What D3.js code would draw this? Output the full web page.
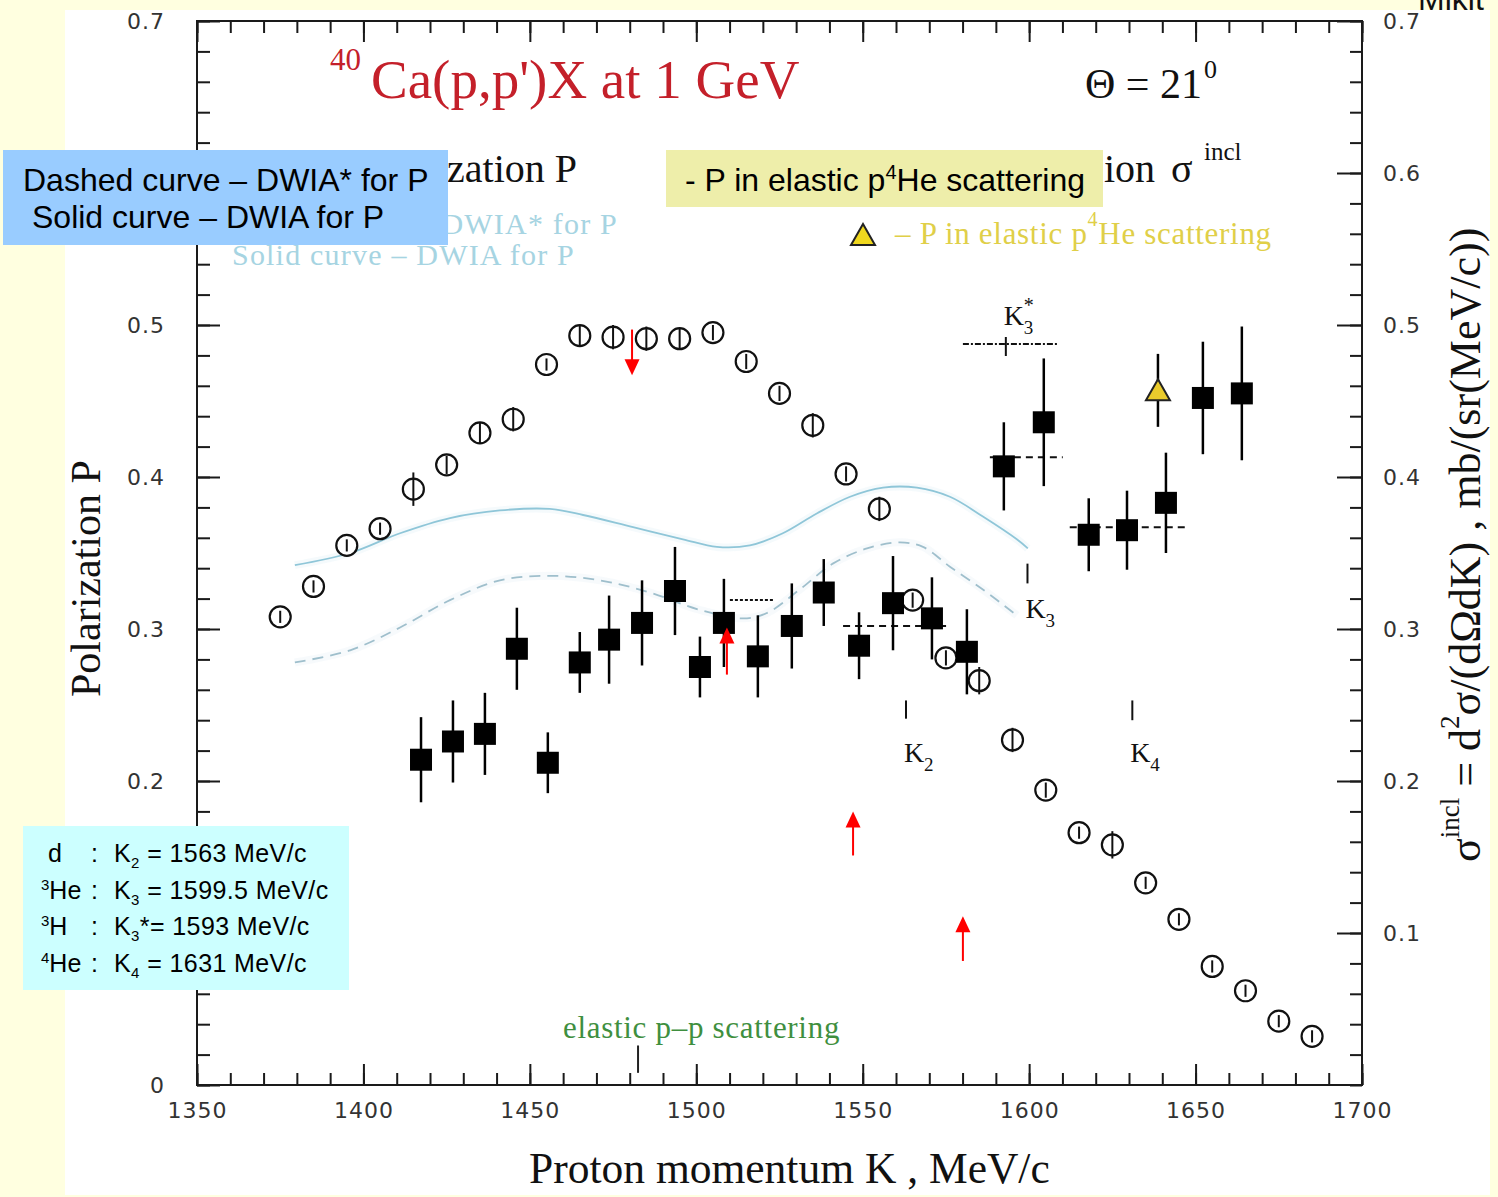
<!DOCTYPE html>
<html>
<head>
<meta charset="utf-8">
<script src="https://cdn.jsdelivr.net/npm/d3@7"></script>
<style>
  html, body { margin: 0; padding: 0; background: #FFFFE0; }
  svg { display: block; }
</style>
</head>
<body>
<svg id="chart" width="1498" height="1197"></svg>
<script>
// ---------- data ----------
// inclusive cross section (open circles, right axis), MeV/c and mb/(sr MeV/c)
const crossK = [1375,1385,1395,1405,1415,1425,1435,1445,1455,1465,1475,1485,1495,1505,1515,1525,
                1535,1545,1555,1565,1575,1585,1595,1605,1615,1625,1635,1645,1655,1665,1675,1685];
const crossSigma = [0.308,0.328,0.355,0.366,0.392,0.408,0.429,0.438,0.474,0.493,0.492,0.491,0.491,0.495,0.476,0.455,
                    0.434,0.402,0.379,0.319,0.281,0.266,0.227,0.194,0.166,0.158,0.133,0.109,0.078,0.062,0.042,0.032];
const crossErr = [0.004,0.004,0.004,0.004,0.011,0.006,0.007,0.008,0.004,0.007,0.008,0.008,0.007,0.005,0.005,0.005,
                  0.008,0.005,0.008,0.005,0.005,0.009,0.008,0.005,0.004,0.009,0.004,0.004,0.004,0.004,0.004,0.004];

// polarization P (filled squares, left axis)
const polK = [1417.3,1426.9,1436.5,1446.1,1455.4,1465.0,1473.8,1483.7,1493.6,1501.1,1508.3,1518.5,1528.7,
              1538.3,1548.9,1559.1,1570.8,1581.3,1592.4,1604.4,1617.9,1629.4,1641.1,1652.2,1663.9];
const polP = [0.214,0.226,0.231,0.287,0.212,0.278,0.293,0.304,0.325,0.275,0.304,0.282,0.302,
              0.324,0.289,0.317,0.307,0.285,0.407,0.436,0.362,0.365,0.383,0.452,0.455];
const polErr = [0.028,0.027,0.027,0.027,0.020,0.020,0.029,0.028,0.029,0.020,0.029,0.027,0.028,
                0.022,0.022,0.031,0.027,0.028,0.029,0.042,0.024,0.026,0.033,0.037,0.044];

// P in elastic p 4He scattering (triangle)
const heK = [1638.7];
const heP = [0.457];
const heErr = [0.024];

// DWIA (solid) and DWIA* (dashed) calculations
const dwiaK = [1379.4,1396.0,1411.0,1426.0,1441.0,1456.0,1466.0,1481.0,1496.0,1506.2,1516.1,1526.0,1536.2,
               1546.2,1556.1,1566.3,1576.2,1586.1,1596.3,1599.6];
const dwiaP = [0.342,0.350,0.363,0.373,0.378,0.379,0.375,0.367,0.359,0.354,0.355,0.363,0.376,
               0.387,0.393,0.393,0.387,0.374,0.359,0.353];
const dwiaStarK = [1379.4,1396.0,1411.0,1426.0,1441.0,1456.0,1471.1,1486.1,1501.1,1514.0,1521.2,1531.1,
                   1541.0,1551.3,1561.2,1568.1,1576.2,1586.1,1596.3];
const dwiaStarP = [0.278,0.286,0.301,0.319,0.332,0.335,0.332,0.324,0.3125,0.307,0.3105,0.326,
                   0.343,0.353,0.357,0.354,0.341,0.326,0.309];

// kinematic limits of the cluster knock-out
const thresholdName = ["K2", "K3", "K3*", "K4"];
const thresholdK = [1563, 1599.5, 1593, 1631];

// averaged levels (horizontal reference segments)
const levelFrom = [1510.1, 1544.1, 1580.1, 1588.2, 1612.2];
const levelTo   = [1523.6, 1576.2, 1608.6, 1610.1, 1647.7];
const levelP    = [0.319, 0.302, 0.4875, 0.413, 0.367];
const levelKind = ["dot", "dash", "dashdot", "dash", "dash"];

// red arrows
const arrowK    = [1480.7, 1509.2, 1547.1, 1580.1];
const arrowTail = [0.497, 0.270, 0.151, 0.0816];
const arrowTip  = [0.467, 0.301, 0.180, 0.111];

// elastic p-p position
const ppK = [1482.5];

// ticks (left-hand 0.1 and 0.6 sit under the note boxes and carry no label)
const xTicks = [1350, 1400, 1450, 1500, 1550, 1600, 1650, 1700];
const yTicksLeft = [0, 0.1, 0.2, 0.3, 0.4, 0.5, 0.6, 0.7];
const yLabelsLeft = [0, 0.2, 0.3, 0.4, 0.5, 0.7];
const yTicksRight = [0.1, 0.2, 0.3, 0.4, 0.5, 0.6, 0.7];

// ---------- layout ----------
const svg = d3.select("#chart");
const x = d3.scaleLinear().domain([1350, 1700]).range([197, 1362]);
const y = d3.scaleLinear().domain([0, 0.7]).range([1085, 21]);

const SERIF = "'Liberation Serif', 'Times New Roman', serif";
const SANS = "'Liberation Sans', Arial, sans-serif";
const TICKFONT = "'DejaVu Sans', sans-serif";

// white sheet
svg.append("rect").attr("x", 65).attr("y", 10).attr("width", 1425).attr("height", 1185).attr("fill", "#ffffff");

// ---------- axes ----------
function styleAxis(g) {
  g.select(".domain").remove();
  g.selectAll(".tick line").attr("stroke", "#1a1a1a").attr("stroke-width", 2);
  g.selectAll("text")
    .attr("font-family", TICKFONT).attr("font-size", 22)
    .attr("letter-spacing", 1).attr("fill", "#333");
}
const fmt = d => String(d);
const fmtLeft = d => (yLabelsLeft.includes(d) ? String(d) : "");

svg.append("g").attr("transform", "translate(0,1085)")
  .call(d3.axisBottom(x).tickValues(d3.range(1350, 1701, 10)).tickSize(-12).tickFormat(""))
  .call(styleAxis);
svg.append("g").attr("transform", "translate(0,1085)")
  .call(d3.axisBottom(x).tickValues(xTicks).tickSize(-21).tickPadding(17).tickFormat(fmt))
  .call(styleAxis);
svg.append("g").attr("transform", "translate(0,21)")
  .call(d3.axisTop(x).tickValues(d3.range(1350, 1701, 10)).tickSize(-12).tickFormat(""))
  .call(styleAxis);
svg.append("g").attr("transform", "translate(0,21)")
  .call(d3.axisTop(x).tickValues(xTicks).tickSize(-21).tickFormat(""))
  .call(styleAxis);

svg.append("g").attr("transform", "translate(197,0)")
  .call(d3.axisLeft(y).tickValues(d3.range(0, 0.701, 0.02)).tickSize(-13).tickFormat(""))
  .call(styleAxis);
const leftAxis = svg.append("g").attr("transform", "translate(197,0)")
  .call(d3.axisLeft(y).tickValues(yTicksLeft).tickSize(-23).tickPadding(32).tickFormat(fmtLeft))
  .call(styleAxis);
leftAxis.selectAll("text").filter(function () { return this.textContent === ""; }).remove();
svg.append("g").attr("transform", "translate(1362,0)")
  .call(d3.axisRight(y).tickValues(d3.range(0, 0.701, 0.02)).tickSize(-12).tickFormat(""))
  .call(styleAxis);
svg.append("g").attr("transform", "translate(1362,0)")
  .call(d3.axisRight(y).tickValues(yTicksRight).tickSize(-25).tickPadding(21).tickFormat(fmt))
  .call(styleAxis);

// frame
svg.append("rect").attr("x", x(1350)).attr("y", y(0.7))
  .attr("width", x(1700) - x(1350)).attr("height", y(0) - y(0.7))
  .attr("fill", "none").attr("stroke", "#1a1a1a").attr("stroke-width", 2);

// axis titles
svg.append("text").attr("x", 529).attr("y", 1183)
  .attr("font-family", SERIF).attr("font-size", 43.5).attr("fill", "#111")
  .text("Proton momentum K , MeV/c");

svg.append("text").attr("transform", "translate(100,697) rotate(-90)")
  .attr("font-family", SERIF).attr("font-size", 42).attr("fill", "#111")
  .text("Polarization P");

const rt = svg.append("text").attr("transform", "translate(1480,862) rotate(-90)")
  .attr("font-family", SERIF).attr("font-size", 44).attr("fill", "#111");
rt.append("tspan").text("σ");
rt.append("tspan").attr("font-size", 27).attr("dy", -21).text("incl");
rt.append("tspan").attr("dy", 21).text(" = d");
rt.append("tspan").attr("font-size", 27).attr("dy", -21).text("2");
rt.append("tspan").attr("dy", 21).text("σ/(dΩdK) , mb/(sr(MeV/c))");

// ---------- headings inside the frame ----------
svg.append("text").attr("x", 330).attr("y", 70)
  .attr("font-family", SERIF).attr("font-size", 31).attr("fill", "#c4202a").text("40");
svg.append("text").attr("x", 371).attr("y", 98)
  .attr("font-family", SERIF).attr("font-size", 55).attr("fill", "#c4202a").text("Ca(p,p')X at 1 GeV");

svg.append("text").attr("x", 1085).attr("y", 98)
  .attr("font-family", SERIF).attr("font-size", 42).attr("fill", "#111").text("Θ = 21");
svg.append("text").attr("x", 1204).attr("y", 78)
  .attr("font-family", SERIF).attr("font-size", 26).attr("fill", "#111").text("0");

// panel headings, partly covered by the note boxes
svg.append("text").attr("x", 577).attr("y", 182).attr("text-anchor", "end")
  .attr("font-family", SERIF).attr("font-size", 40).attr("fill", "#111").text("zation P");
const sh = svg.append("text").attr("x", 1104).attr("y", 182)
  .attr("font-family", SERIF).attr("font-size", 40).attr("fill", "#111");
sh.append("tspan").text("ion");
sh.append("tspan").attr("x", 1171).text("σ");
sh.append("tspan").attr("x", 1204).attr("y", 160).attr("font-size", 25).text("incl");

// curve legend (light blue)
svg.append("text").attr("x", 618).attr("y", 234).attr("text-anchor", "end")
  .attr("font-family", SERIF).attr("font-size", 30).attr("letter-spacing", 1.2)
  .attr("fill", "#a6d4e2").text("DWIA* for P");
svg.append("text").attr("x", 232).attr("y", 265)
  .attr("font-family", SERIF).attr("font-size", 30).attr("letter-spacing", 1.2)
  .attr("fill", "#a6d4e2").text("Solid curve – DWIA for P");

// triangle legend (yellow)
const triPath = "M0,-11 L12,10 L-12,10 Z";
svg.append("path").attr("d", triPath).attr("transform", "translate(863,235)")
  .attr("fill", "#f0d81e").attr("stroke", "#222").attr("stroke-width", 2);
const yl = svg.append("text").attr("x", 895).attr("y", 244)
  .attr("font-family", SERIF).attr("font-size", 31).attr("letter-spacing", 0.7).attr("fill", "#e0cf48");
yl.append("tspan").text("– P in elastic  p");
yl.append("tspan").attr("font-size", 20).attr("dy", -18).text("4");
yl.append("tspan").attr("dy", 18).text("He scattering");

// elastic p-p scattering
svg.append("text").attr("x", 563).attr("y", 1038)
  .attr("font-family", SERIF).attr("font-size", 31).attr("letter-spacing", 0.7)
  .attr("fill", "#3f8f3f").text("elastic p–p scattering");
svg.selectAll(".pp").data(ppK).enter().append("line")
  .attr("x1", d => x(d)).attr("x2", d => x(d))
  .attr("y1", y(0.026)).attr("y2", y(0.008))
  .attr("stroke", "#222").attr("stroke-width", 2);

// ---------- theory curves ----------
const line = d3.line().x(d => x(d[0])).y(d => y(d[1])).curve(d3.curveCatmullRom.alpha(0.5));
const solidPts = dwiaK.map((k, i) => [k, dwiaP[i]]);
const dashedPts = dwiaStarK.map((k, i) => [k, dwiaStarP[i]]);

svg.append("path").attr("d", line(solidPts)).attr("fill", "none")
  .attr("stroke", "#e2f2f7").attr("stroke-width", 8).attr("stroke-opacity", 0.35);
svg.append("path").attr("d", line(dashedPts)).attr("fill", "none")
  .attr("stroke", "#e8f2f6").attr("stroke-width", 8).attr("stroke-opacity", 0.35);
svg.append("path").attr("d", line(solidPts)).attr("fill", "none")
  .attr("stroke", "#8fc6d8").attr("stroke-width", 1.8);
svg.append("path").attr("d", line(dashedPts)).attr("fill", "none")
  .attr("stroke", "#9fbfcc").attr("stroke-width", 1.8).attr("stroke-dasharray", "11,7");

// ---------- reference levels ----------
const dashFor = { dot: "3,2", dash: "7,5", dashdot: "6,2,2,2" };
svg.selectAll(".lvl").data(levelP).enter().append("line")
  .attr("x1", (d, i) => x(levelFrom[i])).attr("x2", (d, i) => x(levelTo[i]))
  .attr("y1", d => y(d)).attr("y2", d => y(d))
  .attr("stroke", "#111").attr("stroke-width", 2)
  .attr("stroke-dasharray", (d, i) => dashFor[levelKind[i]]);

// ---------- cross-section circles ----------
const cg = svg.append("g");
crossK.forEach((k, i) => {
  const cx = x(k), cy = y(crossSigma[i]);
  cg.append("circle").attr("cx", cx).attr("cy", cy).attr("r", 10.5)
    .attr("fill", "#fff").attr("stroke", "#111").attr("stroke-width", 2.2);
  cg.append("line").attr("x1", cx).attr("x2", cx)
    .attr("y1", y(crossSigma[i] + crossErr[i])).attr("y2", y(crossSigma[i] - crossErr[i]))
    .attr("stroke", "#111").attr("stroke-width", 2);
});

// ---------- polarization squares ----------
const pg = svg.append("g");
polK.forEach((k, i) => {
  const cx = x(k), cy = y(polP[i]);
  pg.append("line").attr("x1", cx).attr("x2", cx)
    .attr("y1", y(polP[i] + polErr[i])).attr("y2", y(polP[i] - polErr[i]))
    .attr("stroke", "#000").attr("stroke-width", 2.5);
  pg.append("rect").attr("x", cx - 11).attr("y", cy - 11).attr("width", 22).attr("height", 22)
    .attr("fill", "#000");
});

// elastic p4He point
heK.forEach((k, i) => {
  const cx = x(k), cy = y(heP[i]);
  svg.append("line").attr("x1", cx).attr("x2", cx)
    .attr("y1", y(heP[i] + heErr[i])).attr("y2", y(heP[i] - heErr[i]))
    .attr("stroke", "#000").attr("stroke-width", 2.5);
  svg.append("path").attr("d", triPath).attr("transform", `translate(${cx},${cy})`)
    .attr("fill", "#eacb2c").attr("stroke", "#222").attr("stroke-width", 2);
});

// ---------- thresholds ----------
const thrTick = { K2: [0.253, 0.241], K3: [0.343, 0.330], "K3*": [0.4921, 0.4796], K4: [0.253, 0.240] };
const thrLabel = { K2: [0.2125, "2", ""], K3: [0.307, "3", ""], "K3*": [0.5, "3", "*"], K4: [0.2125, "4", ""] };
thresholdName.forEach((n, i) => {
  const tx = x(thresholdK[i]);
  svg.append("line").attr("x1", tx).attr("x2", tx)
    .attr("y1", y(thrTick[n][0])).attr("y2", y(thrTick[n][1]))
    .attr("stroke", "#111").attr("stroke-width", 2);
  const lx = tx - 2, ly = y(thrLabel[n][0]);
  const t = svg.append("text").attr("x", lx).attr("y", ly)
    .attr("font-family", SERIF).attr("font-size", 28).attr("fill", "#111");
  t.append("tspan").text("K");
  if (thrLabel[n][2]) {
    t.append("tspan").attr("x", lx + 20).attr("y", ly - 13).attr("font-size", 20).text(thrLabel[n][2]);
  }
  t.append("tspan").attr("x", lx + 20).attr("y", ly + 9).attr("font-size", 19).text(thrLabel[n][1]);
});

// ---------- red arrows ----------
arrowK.forEach((k, i) => {
  const ax = x(k), y0 = y(arrowTail[i]), y1 = y(arrowTip[i]);
  const dir = y1 > y0 ? 1 : -1;
  svg.append("line").attr("x1", ax).attr("x2", ax).attr("y1", y0).attr("y2", y1 - dir * 14)
    .attr("stroke", "#ff0000").attr("stroke-width", 2);
  svg.append("path")
    .attr("d", `M${ax},${y1} L${ax - 7.5},${y1 - dir * 16} L${ax + 7.5},${y1 - dir * 16} Z`)
    .attr("fill", "#ff0000");
});

// ---------- overlay notes ----------
svg.append("rect").attr("x", 3).attr("y", 150).attr("width", 445).attr("height", 95).attr("fill", "#99ccff");
svg.append("text").attr("x", 23).attr("y", 191).attr("font-family", SANS).attr("font-size", 32)
  .attr("fill", "#000").text("Dashed curve – DWIA* for P");
svg.append("text").attr("x", 32).attr("y", 228).attr("font-family", SANS).attr("font-size", 32)
  .attr("fill", "#000").text("Solid curve – DWIA for P");

svg.append("rect").attr("x", 666).attr("y", 150).attr("width", 437).attr("height", 57).attr("fill", "#eeeeaa");
const yn = svg.append("text").attr("x", 685).attr("y", 191).attr("font-family", SANS).attr("font-size", 32).attr("fill", "#000");
yn.append("tspan").text("- P in elastic p");
yn.append("tspan").attr("font-size", 20).attr("dy", -12).text("4");
yn.append("tspan").attr("dy", 12).text("He scattering");

svg.append("rect").attr("x", 23).attr("y", 826).attr("width", 326).attr("height", 164).attr("fill", "#ccffff");
const rows = [
  { nuc: "d", sup: "", sub: "2", star: "", rest: "= 1563 MeV/c" },
  { nuc: "He", sup: "3", sub: "3", star: "", rest: "= 1599.5 MeV/c" },
  { nuc: "H", sup: "3", sub: "3", star: "*", rest: "= 1593 MeV/c" },
  { nuc: "He", sup: "4", sub: "4", star: "", rest: "= 1631 MeV/c" }
];
rows.forEach((r, i) => {
  const by = 862 + i * 36.5;
  const t = svg.append("text").attr("x", r.sup ? 41 : 48).attr("y", by)
    .attr("font-family", SANS).attr("font-size", 25).attr("fill", "#000");
  if (r.sup) t.append("tspan").attr("font-size", 15).attr("dy", -9).text(r.sup);
  t.append("tspan").attr("dy", r.sup ? 9 : 0).text(r.nuc);
  svg.append("text").attr("x", 91).attr("y", by).attr("font-family", SANS).attr("font-size", 25)
    .attr("fill", "#000").text(":");
  const k = svg.append("text").attr("x", 114).attr("y", by).attr("font-family", SANS)
    .attr("font-size", 25).attr("letter-spacing", 0.4).attr("fill", "#000");
  k.append("tspan").text("K");
  k.append("tspan").attr("font-size", 15).attr("dy", 6).text(r.sub);
  k.append("tspan").attr("dy", -6).text(r.star + (r.star ? "" : " ") + r.rest);
});

// running header fragment at the very top
svg.append("text").attr("x", 1418).attr("y", 10).attr("font-family", SANS).attr("font-size", 32)
  .attr("fill", "#111").text("Mikit");
</script>
</body>
</html>
